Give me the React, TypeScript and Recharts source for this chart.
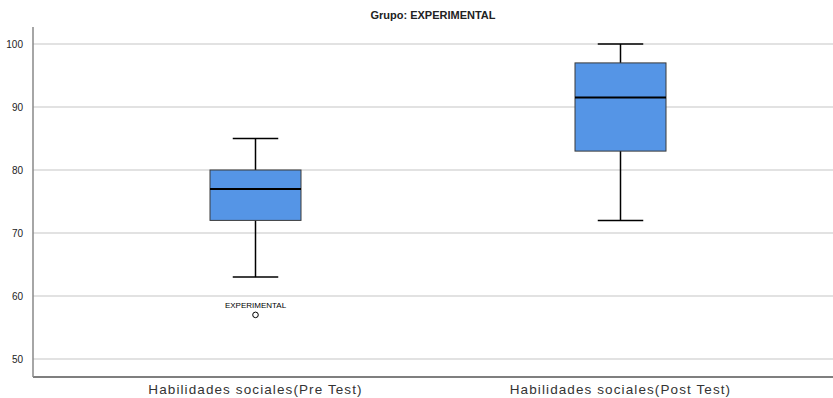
import { ComposedChart, Bar, Scatter, XAxis, YAxis, CartesianGrid } from 'recharts';

const categories = ['Habilidades sociales(Pre Test)', 'Habilidades sociales(Post Test)'];
const minValues = [63, 72];
const q1Values = [72, 83];
const medianValues = [77, 91.5];
const q3Values = [80, 97];
const maxValues = [85, 100];
const outlierValues: (number | null)[] = [57, null];
const outlierLabels = ['EXPERIMENTAL', ''];
const yTicks = [50, 60, 70, 80, 90, 100];

const data = categories.map((name, i) => ({
  name,
  range: [minValues[i], maxValues[i]],
  min: minValues[i],
  q1: q1Values[i],
  median: medianValues[i],
  q3: q3Values[i],
  max: maxValues[i],
  outlier: outlierValues[i],
  outlierLabel: outlierLabels[i],
}));

// whiskers + box + median, drawn inside the [min, max] range bar
const BoxShape = (props: any) => {
  const { x, y, width, height, payload } = props;
  const { min, q1, median, q3, max } = payload;
  const toY = (v: number) => y + (height * (max - v)) / (max - min);
  const cx = x + width / 2;
  const cap = width / 4;
  return (
    <g>
      <line x1={cx} x2={cx} y1={toY(max)} y2={toY(min)} stroke="#000" strokeWidth={1.5} />
      <line x1={cx - cap} x2={cx + cap} y1={toY(max)} y2={toY(max)} stroke="#000" strokeWidth={1.5} />
      <line x1={cx - cap} x2={cx + cap} y1={toY(min)} y2={toY(min)} stroke="#000" strokeWidth={1.5} />
      <rect x={x} y={toY(q3)} width={width} height={toY(q1) - toY(q3)} fill="#5595E6" stroke="#3a3a3a" strokeWidth={1} />
      <line x1={x} x2={x + width} y1={toY(median)} y2={toY(median)} stroke="#000" strokeWidth={2} />
    </g>
  );
};

const OutlierShape = (props: any) => {
  const { cx, cy, payload } = props;
  if (payload.outlier == null || cx == null || cy == null) return <g />;
  return (
    <g>
      <text x={cx} y={cy - 7} textAnchor="middle" fontSize={8} fill="#000" fontFamily="Liberation Sans, Arial, sans-serif">
        {payload.outlierLabel}
      </text>
      <circle cx={cx} cy={cy} r={2.8} fill="none" stroke="#000" strokeWidth={1} />
    </g>
  );
};

export default function App() {
  return (
    <div style={{ position: 'absolute', left: 0, top: 0, width: 833, height: 398, background: '#fff', fontFamily: 'Liberation Sans, Arial, sans-serif' }}>
      <div
        style={{
          position: 'absolute',
          top: 9,
          left: 0,
          width: 866,
          textAlign: 'center',
          fontSize: 11,
          fontWeight: 'bold',
          fontFamily: '"Liberation Sans Narrow", "Liberation Sans", Arial, sans-serif',
          color: '#222',
        }}
      >
        Grupo: EXPERIMENTAL
      </div>
      <ComposedChart
        width={833}
        height={398}
        data={data}
        margin={{ top: 27, right: 0, bottom: 0, left: 0 }}
      >
        <CartesianGrid vertical={false} horizontalValues={yTicks} stroke="#d9d9d9" strokeWidth={1.5} />
        <XAxis
          dataKey="name"
          height={21}
          padding={{ left: 40, right: 30 }}
          tickLine={false}
          axisLine={{ stroke: '#555', strokeWidth: 1.5 }}
          tick={{ fontSize: 13.5, fill: '#333', letterSpacing: 1.1 }}
          tickMargin={1}
        />
        <YAxis
          width={33}
          type="number"
          domain={[47.14, 102.7]}
          ticks={yTicks}
          tickLine={false}
          axisLine={{ stroke: '#888', strokeWidth: 1.5 }}
          tick={{ fontSize: 10, fill: '#222' }}
          tickMargin={4}
        />
        <Bar dataKey="range" barSize={91} shape={BoxShape} isAnimationActive={false} />
        <Scatter dataKey="outlier" shape={OutlierShape} isAnimationActive={false} />
      </ComposedChart>
    </div>
  );
}
